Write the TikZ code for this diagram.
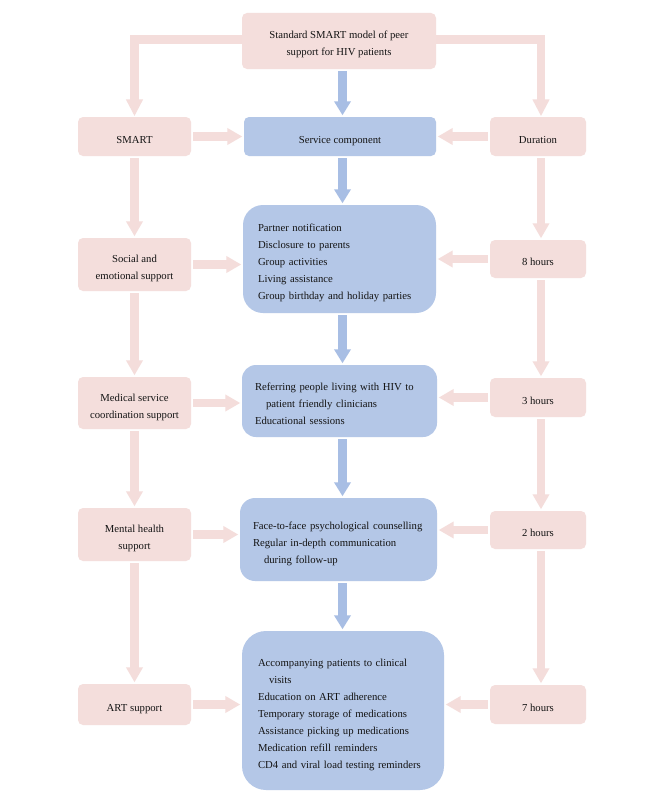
\documentclass[tikz,border=0pt]{standalone}
\usepackage{fontspec}
\setmainfont{Liberation Serif}
\usetikzlibrary{arrows.meta}
\definecolor{pinkbox}{RGB}{244,222,220}
\definecolor{pinkarrow}{RGB}{244,221,219}
\definecolor{bluebox}{RGB}{180,199,231}
\definecolor{bluearrow}{RGB}{168,190,228}
\definecolor{txt}{RGB}{20,20,20}
\newcommand\mytopstrut{\rule{0pt}{17bp}}
\newcommand\mybotstrut{\rule[-4bp]{0pt}{4bp}}
\begin{document}
\begin{tikzpicture}[x=1bp,y=-1bp,
  every node/.style={font=\fontsize{10.7bp}{17bp}\selectfont, text=txt},
  lbox/.style={fill=pinkbox, rounded corners=5bp, align=center, minimum width=113bp, inner sep=0pt},
  rbox/.style={fill=pinkbox, rounded corners=5bp, align=center, minimum width=96bp, inner sep=0pt},
  bbox/.style={fill=bluebox, align=left, inner ysep=0pt},
  parrow/.style={draw=pinkarrow, line width=8.5bp, -{Triangle[width=16bp,length=15bp]}, shorten <=2bp, shorten >=1.5bp},
  barrow/.style={draw=bluearrow, line width=9bp, -{Triangle[width=16bp,length=14bp]}, shorten <=2bp, shorten >=1.5bp},
  corner/.style={draw=pinkarrow, line width=8.5bp, -{Triangle[width=16bp,length=17bp]}, shorten >=0.5bp}
]
\fill[white] (0,0) rectangle (666,799);
\useasboundingbox (0,0) rectangle (666,799);

% nodes
\node[lbox, minimum width=194bp, minimum height=56bp] (top) at (339,41) {\mytopstrut Standard SMART model of peer\\support for HIV patients\mybotstrut};
\node[lbox, minimum height=39bp] (smart) at (134.5,136.5) {\mytopstrut SMART\mybotstrut};
\node[fill=bluebox, rounded corners=5bp, minimum width=192bp, minimum height=39bp, inner sep=0pt] (svc) at (340,136.5) {\mytopstrut Service component\mybotstrut};
\node[rbox, minimum height=39bp] (dur) at (538,136.5) {\mytopstrut Duration\mybotstrut};

\node[lbox, minimum height=53bp] (social) at (134.5,264.5) {\mytopstrut Social and\\emotional support\mybotstrut};
\node[bbox, rounded corners=20bp, text width=163bp, inner xsep=15bp, minimum height=108bp] (b1) at (339.5,259) {\mytopstrut Partner notification\\Disclosure to parents\\Group activities\\Living assistance\\Group birthday and holiday parties\mybotstrut};
\node[rbox, minimum height=38bp] (h8) at (538,259) {\mytopstrut 8 hours\mybotstrut};

\node[lbox, minimum height=52bp] (medical) at (134.5,403) {\mytopstrut Medical service\\coordination support\mybotstrut};
\node[bbox, rounded corners=14bp, text width=169bp, inner xsep=13bp, minimum height=72bp] (b2) at (339.5,401) {\mytopstrut Referring people living with HIV to\\\hspace*{11bp}patient friendly clinicians\\Educational sessions\mybotstrut};
\node[rbox, minimum height=39bp] (h3) at (538,397.5) {\mytopstrut 3 hours\mybotstrut};

\node[lbox, minimum height=53bp] (mental) at (134.5,534.5) {\mytopstrut Mental health\\support\mybotstrut};
\node[bbox, rounded corners=15bp, text width=171bp, inner xsep=13bp, minimum height=83bp] (b3) at (338.5,539.5) {\mytopstrut Face-to-face psychological counselling\\Regular in-depth communication\\\hspace*{11bp}during follow-up\mybotstrut};
\node[rbox, minimum height=38bp] (h2) at (538,530) {\mytopstrut 2 hours\mybotstrut};

\node[lbox, minimum height=41bp] (art) at (134.5,704.5) {\mytopstrut ART support\mybotstrut};
\node[bbox, rounded corners=24bp, text width=170bp, inner xsep=16bp, minimum height=159bp] (b4) at (343,710.5) {\mytopstrut Accompanying patients to clinical\\\hspace*{11bp}visits\\Education on ART adherence\\Temporary storage of medications\\Assistance picking up medications\\Medication refill reminders\\CD4 and viral load testing reminders\mybotstrut};
\node[rbox, minimum height=39bp] (h7) at (538,704.5) {\mytopstrut 7 hours\mybotstrut};

\coordinate (bx) at (342.5,0);
\coordinate (rx) at (541,0);

% top split
\draw[corner] ([yshift=1.5bp]top.west) -| (smart.north);
\draw[corner] ([yshift=1.5bp]top.east) -| (dur.north -| rx);

% blue central column
\draw[barrow] (top.south -| bx) -- (svc.north -| bx);
\draw[barrow] (svc.south -| bx) -- (b1.north -| bx);
\draw[barrow] (b1.south -| bx) -- (b2.north -| bx);
\draw[barrow] (b2.south -| bx) -- (b3.north -| bx);
\draw[barrow] (b3.south -| bx) -- (b4.north -| bx);

% left column
\draw[parrow] (smart.south) -- (social.north);
\draw[parrow] (social.south) -- (medical.north);
\draw[parrow] (medical.south) -- (mental.north);
\draw[parrow] (mental.south) -- (art.north);

% right column
\draw[parrow] (dur.south -| rx) -- (h8.north -| rx);
\draw[parrow] (h8.south -| rx) -- (h3.north -| rx);
\draw[parrow] (h3.south -| rx) -- (h2.north -| rx);
\draw[parrow] (h2.south -| rx) -- (h7.north -| rx);

% left to centre
\draw[parrow] (smart.east) -- (smart.east -| svc.west);
\draw[parrow] (social.east) -- (social.east -| b1.west);
\draw[parrow] (medical.east) -- (medical.east -| b2.west);
\draw[parrow] (mental.east) -- (mental.east -| b3.west);
\draw[parrow] (art.east) -- (art.east -| b4.west);

% right to centre
\draw[parrow] (dur.west) -- (dur.west -| svc.east);
\draw[parrow] (h8.west) -- (h8.west -| b1.east);
\draw[parrow] (h3.west) -- (h3.west -| b2.east);
\draw[parrow] (h2.west) -- (h2.west -| b3.east);
\draw[parrow] (h7.west) -- (h7.west -| b4.east);
\end{tikzpicture}
\end{document}
